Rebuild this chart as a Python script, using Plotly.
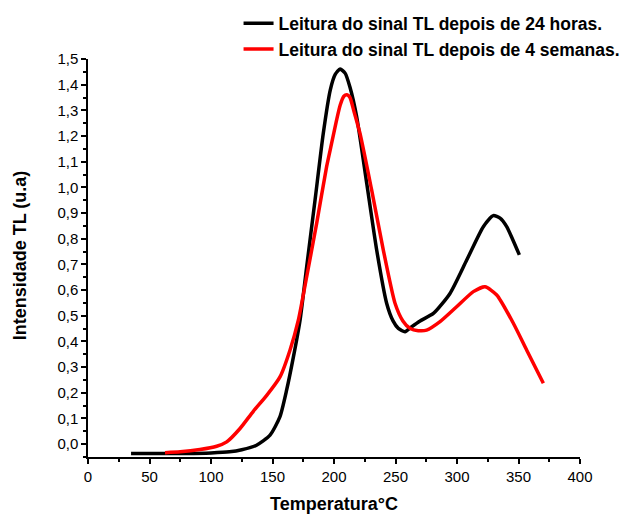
import plotly.graph_objects as go

# Black: reading after 24 hours
temp_24h = [35, 60, 80, 100, 115, 125, 137, 148, 156, 161.5, 167, 172.4, 177.8, 184.6, 191.3,
            197, 201, 205, 209, 213, 218.4, 226.6, 234.7, 242.8, 248, 252.3, 257.7, 263,
            270, 280.8, 294.3, 307.9, 321.4, 329.5, 335, 340.4, 345, 350.7]
int_24h = [-0.036, -0.036, -0.036, -0.034, -0.030, -0.022, -0.004, 0.035, 0.106, 0.211, 0.340,
           0.483, 0.691, 0.951, 1.211, 1.38, 1.44, 1.461, 1.445, 1.39, 1.276, 1.016, 0.756,
           0.549, 0.48, 0.451, 0.438, 0.457, 0.48, 0.509, 0.587, 0.717, 0.847, 0.890, 0.88,
           0.847, 0.80, 0.737]

# Red: reading after 4 weeks
temp_4w = [62.6, 75, 91, 104.6, 112.8, 123.6, 134.4, 145.3, 156.1, 164.2, 171, 177.8, 185.9,
           194, 198, 202, 205, 208, 210.5, 213, 216, 221.1, 230.6, 240.1, 249.6, 256, 262, 268.5,
           275.3, 286.2, 299.7, 313.3, 322.8, 332.3, 345.8, 356.7, 370.2]
int_4w = [-0.033, -0.030, -0.021, -0.008, 0.009, 0.061, 0.128, 0.190, 0.262, 0.366, 0.483,
          0.652, 0.860, 1.081, 1.17, 1.26, 1.32, 1.355, 1.361, 1.35, 1.30, 1.211, 0.990, 0.756,
          0.549, 0.48, 0.45, 0.442, 0.444, 0.477, 0.535, 0.594, 0.613, 0.581, 0.471, 0.366,
          0.237]

labels = ["Leitura do sinal TL depois de 24 horas.", "Leitura do sinal TL depois de 4 semanas."]
x_title = "Temperatura°C"
y_title = "Intensidade TL (u.a)"

FONT = "Liberation Sans, Arial, sans-serif"

fig = go.Figure()
fig.add_trace(go.Scatter(x=temp_24h, y=int_24h, mode="lines", name=labels[0],
                         line=dict(color="black", width=3.5, shape="spline", smoothing=0.6)))
fig.add_trace(go.Scatter(x=temp_4w, y=int_4w, mode="lines", name=labels[1],
                         line=dict(color="red", width=3.5, shape="spline", smoothing=0.6)))

axis_common = dict(showgrid=False, zeroline=False, showline=True, linecolor="black", linewidth=1.5,
                   ticks="outside", ticklen=5, tickwidth=1.5, tickcolor="black", automargin=False,
                   tickfont=dict(family=FONT, size=15, color="black"))

# page body adds an 8px offset, so the figure is 8px smaller and margins shifted
fig.update_layout(
    width=621, height=506,
    margin=dict(l=80, r=49, t=51, b=57, autoexpand=False),
    plot_bgcolor="white", paper_bgcolor="white",
    separators=",.",
    font=dict(family=FONT, color="black"),
    showlegend=True,
    legend=dict(x=0.306, y=1.135, xanchor="left", yanchor="top",
                font=dict(family=FONT, size=17.5, color="black", weight="bold"),
                bgcolor="rgba(0,0,0,0)"),
    xaxis=dict(range=[0, 400], tick0=0, dtick=50,
               minor=dict(dtick=25, ticks="outside", ticklen=3, tickcolor="black", tickwidth=1.5),
               **axis_common),
    yaxis=dict(range=[-0.05, 1.5], tick0=0, dtick=0.1, tickformat=".1f",
               minor=dict(dtick=0.05, ticks="outside", ticklen=3, tickcolor="black", tickwidth=1.5),
               **axis_common),
    annotations=[
        dict(text=x_title, xref="paper", yref="paper", x=0.5, y=-0.118, xanchor="center",
             yanchor="middle", showarrow=False,
             font=dict(family=FONT, size=18, color="black", weight="bold")),
        dict(text=y_title, xref="paper", yref="paper", x=-0.138, y=0.507, xanchor="center",
             yanchor="middle", textangle=-90, showarrow=False,
             font=dict(family=FONT, size=18, color="black", weight="bold")),
    ],
)

fig.write_html("out.html")
